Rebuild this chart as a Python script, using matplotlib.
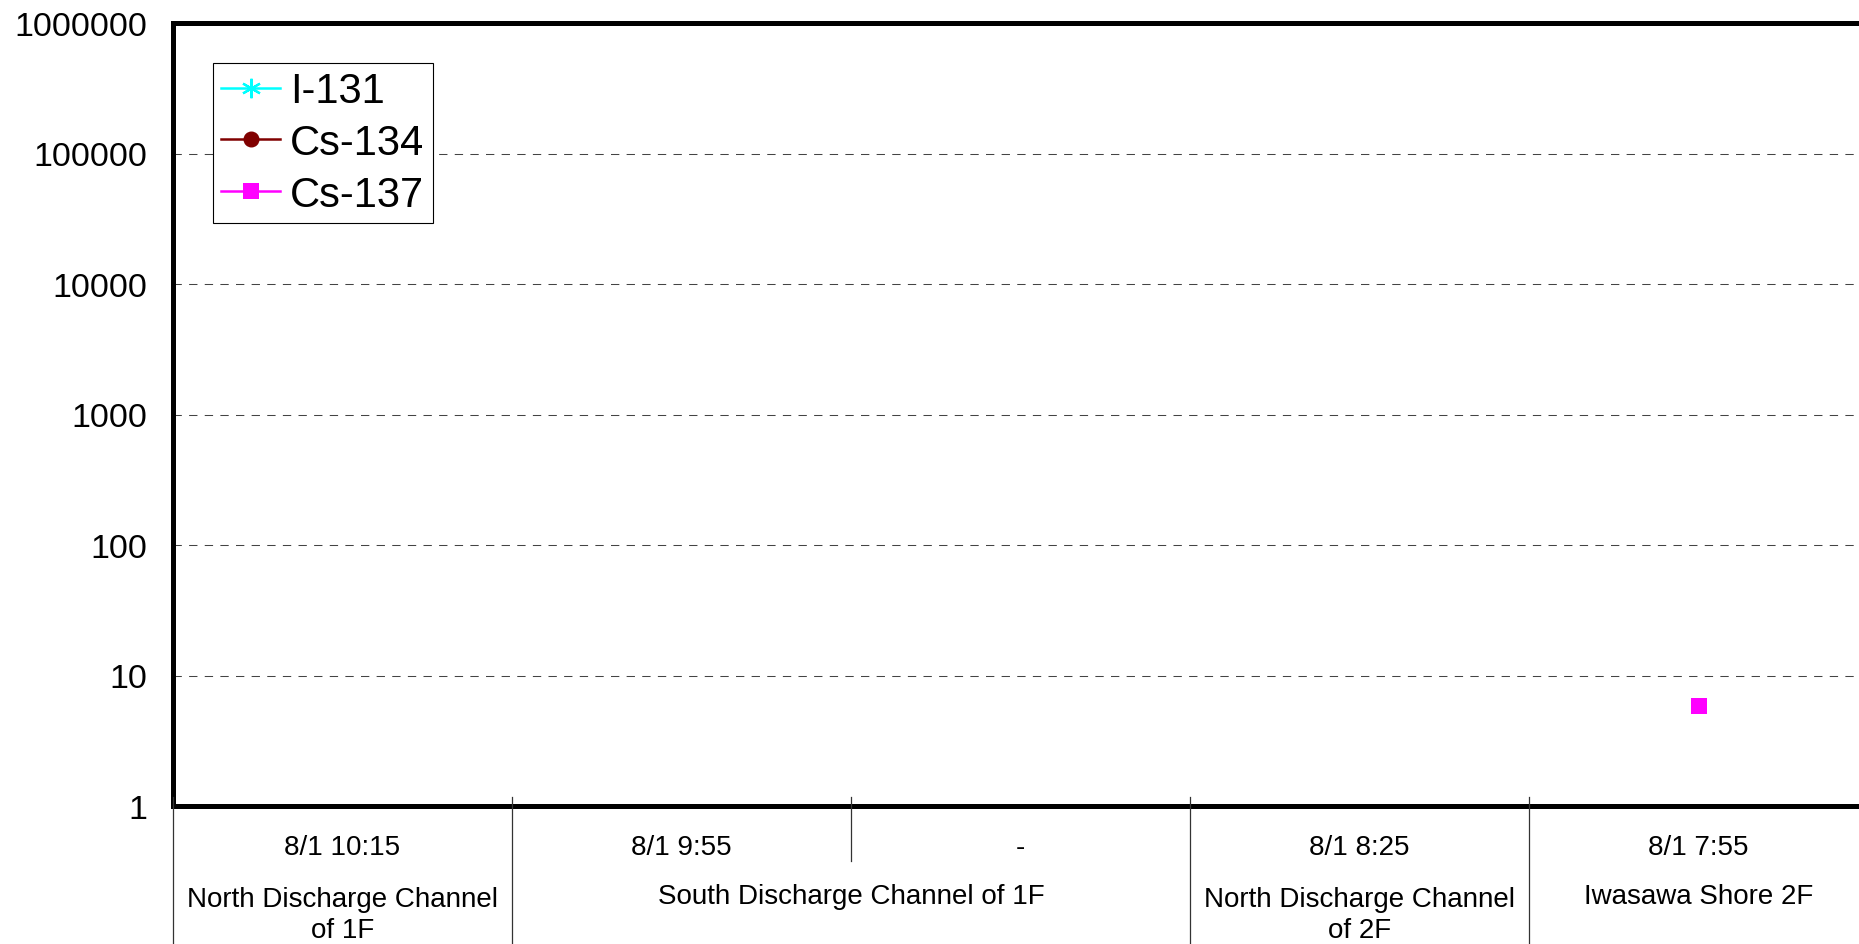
import numpy as np
import matplotlib
matplotlib.use("Agg")
import matplotlib.pyplot as plt

plt.rcParams['font.family'] = ['Liberation Sans', 'DejaVu Sans']

# sampling times (row 1) and locations (row 2, may span several times)
times = ["8/1 10:15", "8/1 9:55", "-", "8/1 8:25", "8/1 7:55"]
locations = ["North Discharge Channel\nof 1F", "South Discharge Channel of 1F",
             "North Discharge Channel\nof 2F", "Iwasawa Shore 2F"]
location_spans = [(0, 0), (1, 2), (3, 3), (4, 4)]

# concentrations (nan = not detected)
i131 = [np.nan, np.nan, np.nan, np.nan, np.nan]
cs134 = [np.nan, np.nan, np.nan, np.nan, np.nan]
cs137 = [np.nan, np.nan, np.nan, np.nan, 5.8]

yticks = [1, 10, 100, 1000, 10000, 100000, 1000000]

W, H = 1859, 945
fig = plt.figure(figsize=(W / 100, H / 100), dpi=100)

# axes in pixels: left 173, right 1868 (cut by the figure edge), top 24, bottom 807
left, right, top, bottom = 173, 1868, 24, 807
ax = fig.add_axes([left / W, 1 - bottom / H, (right - left) / W, (bottom - top) / H])
ax_h = bottom - top

x = np.arange(len(times))
ax.plot(x, i131, color="#00FFFF", marker=(6, 2, 0), markersize=14, mew=1.6, lw=1.8,
        label="I-131")
ax.plot(x, cs134, color="#800000", marker="o", markersize=10.5, lw=1.8, label="Cs-134")
ax.plot(x, cs137, color="#FF00FF", marker="s", markersize=11.5, lw=1.8, label="Cs-137",
        markeredgewidth=0)

ax.set_yscale("log")
ax.set_ylim(1, 1e6)
ax.set_yticks(yticks)
ax.set_yticklabels([str(v) for v in yticks])
ax.yaxis.set_minor_locator(matplotlib.ticker.NullLocator())
ax.tick_params(axis="y", length=0, pad=18.5, labelsize=24.5)
ax.set_xlim(-0.5, len(times) - 0.5)
ax.set_xticks([])

for v in yticks[1:-1]:
    ax.axhline(v, color="#444444", lw=0.75, linestyle=(0, (8, 7)), zorder=0)

for side in ["left", "bottom", "top"]:
    ax.spines[side].set_linewidth(3.6)
ax.spines["right"].set_visible(False)

# category labels below the axis
trans = ax.get_xaxis_transform()
for i, t in enumerate(times):
    ax.text(i, (bottom - 855) / ax_h, t, transform=trans, ha="center", va="baseline",
            fontsize=20, clip_on=False)

line_pitch = 34
for name, (a, b) in zip(locations, location_spans):
    n_lines = name.count("\n") + 1
    base = 904 + (n_lines - 1) * line_pitch
    ax.text((a + b) / 2, (bottom - base) / ax_h, name, transform=trans, ha="center",
            va="baseline", fontsize=20, linespacing=1.25, clip_on=False)

# separators between categories
group_starts = [a for a, b in location_spans]
sep_top = (bottom - 798) / ax_h
for k in range(len(times) + 1):
    xb = k - 0.5
    if k in group_starts or k == len(times):
        y_end = (bottom - H) / ax_h
    else:
        y_end = (bottom - 862) / ax_h
    ax.plot([xb, xb], [sep_top, y_end], transform=trans, color="#333333", lw=0.9,
            clip_on=False, zorder=5)

leg = ax.legend(loc="upper left", bbox_to_anchor=(213 / W, 1 - 64 / H),
                bbox_transform=fig.transFigure, borderaxespad=0, fontsize=30,
                frameon=True, fancybox=False, edgecolor="black", framealpha=1,
                handlelength=1.4, handletextpad=0.25, labelspacing=0.28, borderpad=0.2)
leg.get_frame().set_linewidth(0.8)

fig.savefig("out.png", dpi=100)
